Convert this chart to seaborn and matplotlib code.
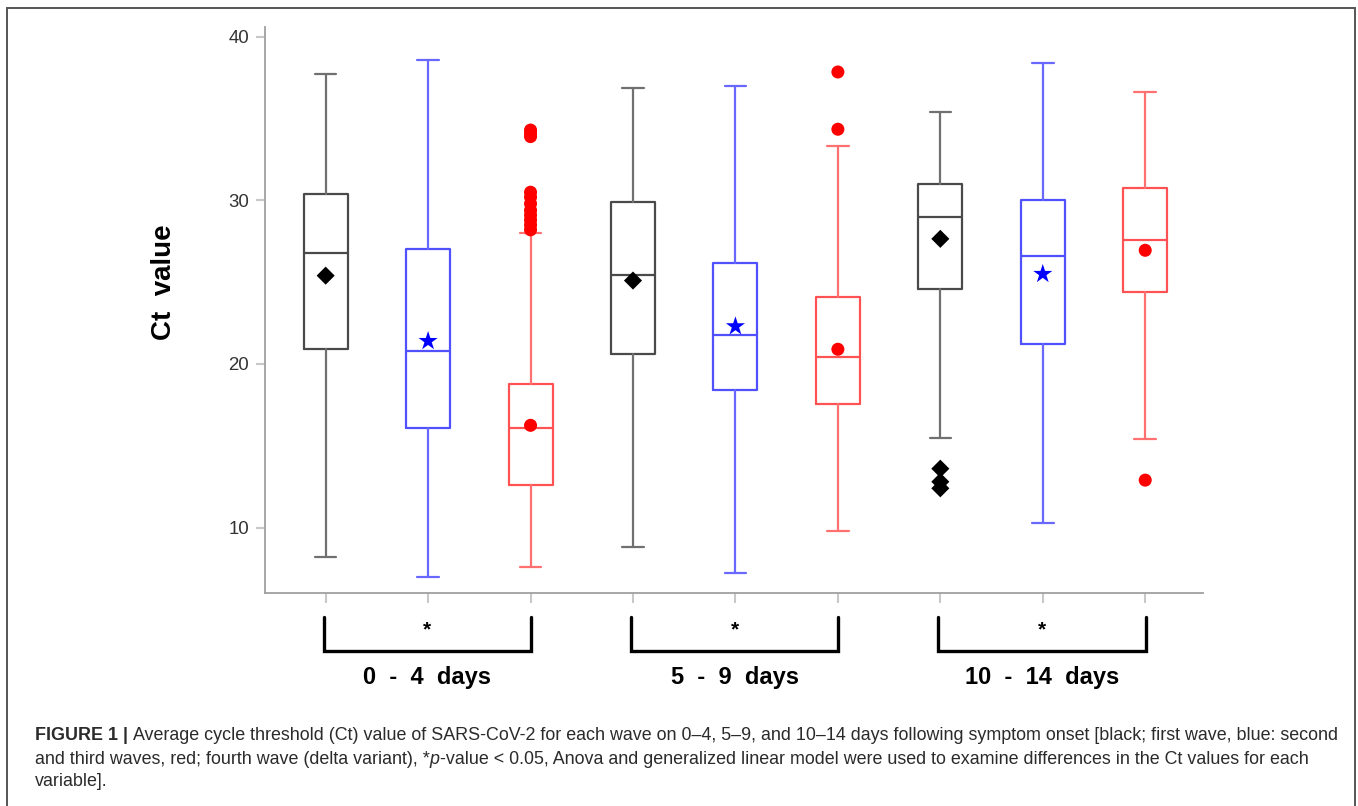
import matplotlib
matplotlib.use("Agg")
import matplotlib.pyplot as plt
import pandas as pd
import seaborn as sns
from matplotlib.patches import Rectangle

# days after symptom onset, three waves per period
periods = ["0  -  4  days", "5  -  9  days", "10  -  14  days"]
waves = ["first", "second_third", "fourth"]

# box statistics, one per box in order: period x wave
whisker_low = [8.2, 7.0, 7.6, 8.8, 7.2, 9.8, 15.45, 10.3, 15.4]
q1 = [20.9, 16.1, 12.6, 20.6, 18.4, 17.55, 24.6, 21.2, 24.4]
median = [26.8, 20.8, 16.1, 25.45, 21.8, 20.45, 29.0, 26.6, 27.6]
q3 = [30.4, 27.0, 18.8, 29.9, 26.2, 24.1, 31.0, 30.0, 30.75]
whisker_high = [37.7, 38.6, 28.0, 36.9, 37.0, 33.35, 35.4, 38.4, 36.6]
mean = [25.4, 21.4, 16.25, 25.1, 22.3, 20.9, 27.65, 25.5, 26.95]

# outliers: box index and value
outlier_box = [2, 2, 2, 2, 2, 2, 2, 2, 2, 2, 2, 5, 5, 6, 6, 6, 8]
outlier_value = [34.3, 34.1, 33.9, 30.5, 30.2, 29.8, 29.4, 29.1, 28.8, 28.5, 28.2,
                 37.85, 34.35, 13.6, 12.8, 12.4, 12.9]

line_colors = {"first": "#4a4a4a", "second_third": "#5050ff", "fourth": "#ff5252"}
whisk_colors = {"first": "#707070", "second_third": "#6868ff", "fourth": "#ff7070"}
mark_colors = {"first": "black", "second_third": "blue", "fourth": "red"}
mark_shapes = {"first": "D", "second_third": "*", "fourth": "o"}
mark_sizes = {"first": 85, "second_third": 210, "fourth": 88}

W, H = 1358, 806

sns.set_theme(style="white")
plt.rcParams["font.family"] = ["Liberation Sans", "DejaVu Sans"]

fig = plt.figure(figsize=(W / 100, H / 100), dpi=100)
ax = fig.add_axes([265 / W, 1 - 593 / H, (1203 - 265) / W, (593 - 27) / H])

n = len(median)
box_wave = [waves[i % 3] for i in range(n)]
stats = []
for i in range(n):
    stats.append(dict(med=median[i], q1=q1[i], q3=q3[i],
                      whislo=whisker_low[i], whishi=whisker_high[i], fliers=[]))

art = ax.bxp(stats, positions=list(range(n)), widths=0.43, showfliers=False,
             capwidths=0.21, patch_artist=False)
for i in range(n):
    c = line_colors[box_wave[i]]
    wc = whisk_colors[box_wave[i]]
    art["boxes"][i].set(color=c, linewidth=1.6)
    art["medians"][i].set(color=c, linewidth=1.6)
    for k in (2 * i, 2 * i + 1):
        art["whiskers"][k].set(color=wc, linewidth=1.6)
        art["caps"][k].set(color=wc, linewidth=1.6)

# means and outliers as seaborn scatter points
points = pd.DataFrame({
    "pos": list(range(n)) + outlier_box,
    "value": mean + outlier_value,
})
points["wave"] = [box_wave[int(p)] for p in points["pos"]]
sns.scatterplot(data=points, x="pos", y="value", hue="wave", style="wave",
                size="wave", palette=mark_colors, markers=mark_shapes,
                sizes=mark_sizes, linewidth=0, legend=False, ax=ax, zorder=5)

ax.set_xlim(-0.592, 8.564)
ax.set_ylim(6.0, 40.6)
ax.set_yticks([10, 20, 30, 40])
ax.set_xticks(range(n))
ax.set_xticklabels([""] * n)
ax.set_xlabel("")
ax.set_ylabel("")
ax.tick_params(axis="y", direction="out", length=6.5, width=1.5, color="#c8c8c8",
               labelsize=13.4, labelcolor="#333333", pad=5, left=True)
ax.tick_params(axis="x", direction="out", length=7, width=1.5, color="#c8c8c8",
               bottom=True)
sns.despine(ax=ax)
for s in ("left", "bottom"):
    ax.spines[s].set_color("#a0a0a0")
    ax.spines[s].set_linewidth(1.3)

ax.text(-0.1077, 0.5495, "Ct  value", transform=ax.transAxes, rotation=90,
        ha="center", va="center", fontsize=20, fontweight="bold",
        family=["Liberation Sans Narrow", "Liberation Sans"], color="black")

# significance brackets under each period
tr = ax.get_xaxis_transform()
for g, label in enumerate(periods):
    x0, x1 = 3 * g - 0.02, 3 * g + 2.005
    ax.plot([x0, x0, x1, x1], [-0.0426, -0.1025, -0.1025, -0.0426], transform=tr,
            color="black", lw=2.4, clip_on=False, solid_joinstyle="miter")
    ax.text((x0 + x1) / 2, -0.0657, "*", transform=tr, ha="center", va="center",
            fontsize=15, fontweight="bold", color="black")
    ax.text((x0 + x1) / 2, -0.149, label, transform=tr, ha="center", va="center",
            fontsize=17, fontweight="bold", color="black")

# outer frame
fig.add_artist(Rectangle((7 / W, -0.02), (1355 - 7) / W, 1 - 8 / H + 0.02,
                         transform=fig.transFigure, fill=False,
                         edgecolor="#555555", linewidth=1.4))

# caption, assembled piece by piece
cap_size = 12.85
cap_color = "#2b2b2b"
renderer = fig.canvas.get_renderer()


def caption_line(y_px, pieces):
    x = 35
    for txt, kw in pieces:
        t = fig.text(x / W, 1 - y_px / H, txt, ha="left", va="center",
                     fontsize=cap_size, color=cap_color, **kw)
        x += t.get_window_extent(renderer).width


caption_line(736, [("FIGURE 1 | ", dict(fontweight="bold")),
                   ("Average cycle threshold (Ct) value of SARS-CoV-2 for each wave on 0–4, "
                    "5–9, and 10–14 days following symptom onset [black; first wave, blue: second", {})])
caption_line(759, [("and third waves, red; fourth wave (delta variant), *", {}),
                   ("p", dict(style="italic")),
                   ("-value < 0.05, Anova and generalized linear model were used to examine "
                    "differences in the Ct values for each", {})])
caption_line(782, [("variable].", {})])

fig.savefig("out.png", dpi=100)
